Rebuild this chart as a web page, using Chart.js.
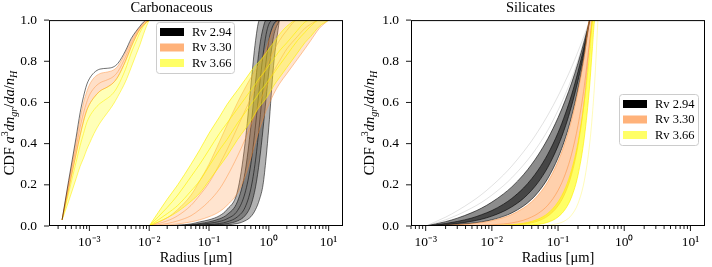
<!DOCTYPE html>
<html><head><meta charset="utf-8">
<script src="https://cdn.jsdelivr.net/npm/chart.js@4.4.1/dist/chart.umd.min.js"></script>
<style>
html,body{margin:0;padding:0;background:#fff;width:712px;height:267px;overflow:hidden}
canvas{position:absolute;top:0}
</style></head>
<body>
<canvas id="c1" width="356" height="267" style="left:0"></canvas>
<canvas id="c2" width="356" height="267" style="left:356px"></canvas>
<script>
// ---------------- data ----------------
const TITLES = ['Carbonaceous', 'Silicates'];
const X_TITLE = 'Radius [μm]';
const XTICK_VALUES = [1e-3, 1e-2, 1e-1, 1e0, 1e1];
const XTICK_LABELS = ['10⁻³', '10⁻²', '10⁻¹', '10⁰', '10¹'];
const LEGEND_LABELS = ['Rv 2.94', 'Rv 3.30', 'Rv 3.66'];
const LEGEND_COLORS = ['#000000', '#ffb27a', '#ffff66'];

// Carbonaceous, small-grain component
const CARB_SMALL_X = [3.5e-4, 4.5e-4, 6e-4, 7e-4, 8e-4, 9e-4, 1e-3, 1.2e-3, 1.5e-3, 2e-3, 2.5e-3, 3e-3, 4e-3, 5e-3, 6e-3, 7e-3, 8e-3, 9e-3, 1e-2];
const CARB_SMALL_BLACK = [
  [0.03, 0.22, 0.43, 0.55, 0.63, 0.685, 0.715, 0.745, 0.762, 0.766, 0.772, 0.79, 0.85, 0.91, 0.945, 0.97, 0.99, 1.0, 1.0]
];
const CARB_SMALL_ORANGE = [
  [0.03, 0.21, 0.41, 0.52, 0.60, 0.65, 0.685, 0.72, 0.74, 0.748, 0.757, 0.777, 0.84, 0.90, 0.94, 0.966, 0.986, 1.0, 1.0],
  [0.03, 0.20, 0.38, 0.48, 0.55, 0.60, 0.635, 0.67, 0.695, 0.71, 0.725, 0.75, 0.82, 0.885, 0.93, 0.96, 0.98, 0.995, 1.0],
  [0.03, 0.18, 0.35, 0.44, 0.51, 0.56, 0.59, 0.625, 0.655, 0.675, 0.695, 0.725, 0.80, 0.87, 0.92, 0.955, 0.975, 0.99, 1.0]
];
const CARB_SMALL_YELLOW = [
  [0.03, 0.18, 0.35, 0.44, 0.51, 0.56, 0.59, 0.625, 0.655, 0.675, 0.695, 0.725, 0.80, 0.87, 0.92, 0.955, 0.975, 0.99, 1.0],
  [0.03, 0.16, 0.31, 0.39, 0.45, 0.50, 0.53, 0.565, 0.595, 0.62, 0.645, 0.68, 0.76, 0.84, 0.895, 0.94, 0.97, 0.99, 1.0],
  [0.03, 0.12, 0.23, 0.29, 0.33, 0.37, 0.40, 0.45, 0.50, 0.55, 0.59, 0.63, 0.70, 0.77, 0.83, 0.88, 0.93, 0.97, 1.0]
];

// Carbonaceous, large-grain component
const CARB_LARGE_X = [0.01, 0.02, 0.03, 0.05, 0.07, 0.1, 0.15, 0.2, 0.3, 0.4, 0.5, 0.6, 0.7, 0.8, 0.9, 1.0, 1.2, 1.5, 2, 3, 4, 5, 7, 10];
const CARB_LARGE_BLACK = [
  [0, 0.002, 0.004, 0.01, 0.02, 0.03, 0.05, 0.08, 0.17, 0.40, 0.68, 0.90, 1, 1, 1, 1, 1, 1],
  [0, 0.001, 0.003, 0.006, 0.012, 0.02, 0.035, 0.055, 0.12, 0.26, 0.48, 0.70, 0.87, 0.96, 1, 1, 1, 1],
  [0, 0, 0.002, 0.004, 0.008, 0.013, 0.022, 0.035, 0.075, 0.16, 0.30, 0.49, 0.68, 0.83, 0.93, 0.98, 1, 1],
  [0, 0, 0.001, 0.002, 0.004, 0.007, 0.012, 0.02, 0.045, 0.09, 0.18, 0.32, 0.50, 0.67, 0.80, 0.90, 0.98, 1],
  [0, 0, 0, 0.001, 0.002, 0.004, 0.007, 0.011, 0.025, 0.05, 0.10, 0.19, 0.32, 0.47, 0.62, 0.75, 0.92, 1],
  [0, 0, 0, 0, 0.001, 0.002, 0.004, 0.006, 0.012, 0.025, 0.045, 0.08, 0.13, 0.20, 0.33, 0.48, 0.78, 1]
];
const CARB_LARGE_ORANGE = [
  [0, 0.04, 0.08, 0.15, 0.22, 0.30, 0.41, 0.49, 0.60, 0.67, 0.72, 0.76, 0.79, 0.82, 0.86, 0.90, 0.96, 1, 1, 1, 1, 1, 1, 1],
  [0, 0.025, 0.05, 0.10, 0.15, 0.21, 0.30, 0.37, 0.48, 0.56, 0.62, 0.67, 0.71, 0.74, 0.77, 0.80, 0.85, 0.90, 0.95, 1, 1, 1, 1, 1],
  [0, 0.012, 0.025, 0.05, 0.08, 0.12, 0.18, 0.24, 0.34, 0.42, 0.49, 0.55, 0.60, 0.64, 0.67, 0.70, 0.75, 0.80, 0.86, 0.92, 0.96, 0.98, 1, 1],
  [0, 0.005, 0.01, 0.02, 0.03, 0.045, 0.07, 0.10, 0.16, 0.24, 0.33, 0.41, 0.47, 0.52, 0.56, 0.59, 0.64, 0.69, 0.74, 0.81, 0.86, 0.90, 0.96, 1]
];
const CARB_LARGE_YELLOW = [
  [0, 0.13, 0.20, 0.30, 0.37, 0.45, 0.53, 0.59, 0.66, 0.71, 0.75, 0.78, 0.80, 0.82, 0.84, 0.86, 0.89, 0.93, 0.97, 1, 1, 1, 1, 1],
  [0, 0.09, 0.15, 0.24, 0.30, 0.37, 0.45, 0.50, 0.57, 0.62, 0.66, 0.69, 0.72, 0.74, 0.76, 0.78, 0.81, 0.85, 0.89, 0.95, 0.99, 1, 1, 1],
  [0, 0.06, 0.10, 0.17, 0.22, 0.29, 0.37, 0.42, 0.50, 0.55, 0.59, 0.62, 0.65, 0.67, 0.69, 0.71, 0.74, 0.78, 0.83, 0.90, 0.94, 0.97, 1, 1],
  [0, 0.04, 0.07, 0.12, 0.16, 0.22, 0.29, 0.34, 0.42, 0.47, 0.51, 0.55, 0.58, 0.60, 0.62, 0.64, 0.68, 0.72, 0.77, 0.84, 0.89, 0.92, 0.97, 1]
];

// Silicates
const SIL_X = [0.001, 0.002, 0.003, 0.005, 0.007, 0.01, 0.015, 0.02, 0.03, 0.04, 0.05, 0.07, 0.1, 0.13, 0.16, 0.2, 0.25, 0.3, 0.33, 0.36, 0.4];
const SIL_BLACK_FAINT = [
  [0, 0.043, 0.074, 0.119, 0.153, 0.195, 0.248, 0.291, 0.36, 0.414, 0.461, 0.538, 0.631, 0.707, 0.771, 0.847, 0.928, 1],
  [0, 0.03, 0.053, 0.088, 0.115, 0.15, 0.196, 0.234, 0.296, 0.346, 0.39, 0.465, 0.562, 0.643, 0.715, 0.806, 0.91, 1]
];
const SIL_BLACK = [
  [0, 0.021, 0.038, 0.065, 0.087, 0.116, 0.156, 0.19, 0.249, 0.30, 0.345, 0.424, 0.526, 0.615, 0.694, 0.791, 0.90, 1],
  [0, 0.012, 0.022, 0.039, 0.055, 0.075, 0.106, 0.134, 0.184, 0.23, 0.272, 0.349, 0.453, 0.549, 0.637, 0.749, 0.879, 1],
  [0, 0.006, 0.012, 0.023, 0.033, 0.048, 0.071, 0.093, 0.134, 0.174, 0.212, 0.285, 0.389, 0.487, 0.583, 0.706, 0.855, 1],
  [0, 0.0033, 0.0067, 0.0134, 0.0201, 0.0301, 0.0468, 0.0635, 0.097, 0.13, 0.164, 0.231, 0.331, 0.431, 0.532, 0.666, 0.833, 1]
];
const SIL_ORANGE = [
  [0, 0.003, 0.006, 0.011, 0.017, 0.026, 0.041, 0.056, 0.087, 0.118, 0.15, 0.215, 0.314, 0.414, 0.516, 0.653, 0.826, 1, 1],
  [0, 0.0005, 0.001, 0.002, 0.003, 0.0055, 0.01, 0.015, 0.028, 0.044, 0.061, 0.101, 0.173, 0.256, 0.349, 0.488, 0.682, 0.897, 1],
  [0, 0, 0, 0.0002, 0.0005, 0.001, 0.0022, 0.0039, 0.0088, 0.0156, 0.0244, 0.048, 0.098, 0.165, 0.25, 0.391, 0.611, 0.879, 1]
];
const SIL_YELLOW = [
  [0, 0, 0, 0.0005, 0.001, 0.0018, 0.0038, 0.0064, 0.0133, 0.0224, 0.0335, 0.0613, 0.117, 0.187, 0.272, 0.406, 0.607, 0.842, 1, 1, 1],
  [0, 0, 0, 0, 0, 0.0001, 0.0003, 0.0008, 0.0022, 0.0044, 0.0077, 0.018, 0.044, 0.084, 0.141, 0.247, 0.432, 0.68, 0.863, 1, 1]
];
const SIL_YELLOW_FAINT = [
  [0, 0, 0, 0, 0, 0, 0, 0, 0, 0.0002, 0.0013, 0.0038, 0.0119, 0.0274, 0.0532, 0.109, 0.222, 0.398, 0.541, 0.714, 1]
];

const YLABEL_PARTS = [['CDF ', 'r'], ['a', 'i'], ['3', 'sup'], ['dn', 'i'], ['gr', 'isub'], ['/', 'r'], ['da', 'i'], ['/', 'r'], ['n', 'i'], ['H', 'isub']];

// ---------------- styles ----------------
const FONT = "'Liberation Serif', 'Times New Roman', serif";
const C_BLACK = 'rgba(0,0,0,0.55)', F_BLACK = 'rgba(0,0,0,0.3)';
const C_ORANGE = 'rgba(255,140,50,0.45)', F_ORANGE = 'rgba(255,150,70,0.26)';
const C_YELLOW = 'rgba(255,240,0,0.65)', F_YELLOW = 'rgba(255,255,0,0.32)';

// fills: list of [sourceIndex, targetIndex, colour] inside the group
function addGroup(list, xs, curves, color, order, fills, width) {
  const base = list.length;
  curves.forEach((ys, j) => {
    const f = (fills || []).find(e => e[0] === j);
    list.push({
      data: ys.map((y, i) => ({x: xs[i], y: y})),
      borderColor: color,
      borderWidth: width || 1,
      pointRadius: 0,
      cubicInterpolationMode: 'monotone',
      order: order,
      fill: f ? base + f[1] : false,
      backgroundColor: f ? f[2] : 'transparent'
    });
  });
}

const isMajor = v => Math.abs(Math.log10(v) - Math.round(Math.log10(v))) < 1e-6;

const framePlugin = {
  id: 'frame',
  afterDraw(chart) {
    const {ctx, chartArea: a, scales} = chart;
    ctx.save();
    ctx.strokeStyle = '#000';
    ctx.lineWidth = 1;
    ctx.strokeRect(a.left + 0.5, a.top + 0.5, a.right - a.left - 1, a.bottom - a.top - 1);
    ctx.lineWidth = 0.9;
    const xs = scales.x;
    xs.ticks.forEach(t => {
      const px = xs.getPixelForValue(t.value);
      const len = isMajor(t.value) ? 5 : 3;
      ctx.beginPath(); ctx.moveTo(px, a.bottom); ctx.lineTo(px, a.bottom + len); ctx.stroke();
    });
    const ys = scales.y;
    ys.ticks.forEach(t => {
      const py = ys.getPixelForValue(t.value);
      ctx.beginPath(); ctx.moveTo(a.left, py); ctx.lineTo(a.left - 5, py); ctx.stroke();
    });
    ctx.restore();
  }
};

const ylabelPlugin = {
  id: 'ylabel',
  afterDraw(chart) {
    const o = chart.options.plugins.ylabel;
    const {ctx, chartArea: a} = chart;
    const fonts = {
      r: '14.5px ' + FONT, i: 'italic 14.5px ' + FONT,
      sup: '10px ' + FONT, isub: 'italic 10px ' + FONT
    };
    const shift = {r: 0, i: 0, sup: -6, isub: 3};
    ctx.save();
    let total = 0;
    const widths = YLABEL_PARTS.map(([t, s]) => { ctx.font = fonts[s]; const w = ctx.measureText(t).width; total += w; return w; });
    ctx.translate(o.x, (a.top + a.bottom) / 2);
    ctx.rotate(-Math.PI / 2);
    ctx.fillStyle = '#000';
    ctx.textBaseline = 'alphabetic';
    ctx.textAlign = 'left';
    let x = -total / 2;
    YLABEL_PARTS.forEach(([t, s], k) => {
      ctx.font = fonts[s];
      ctx.fillText(t, x, shift[s]);
      x += widths[k];
    });
    ctx.restore();
  }
};

const legendPlugin = {
  id: 'rvlegend',
  afterDraw(chart) {
    const o = chart.options.plugins.rvlegend;
    const ctx = chart.ctx;
    ctx.save();
    ctx.beginPath();
    ctx.roundRect(o.x + 0.5, o.y + 0.5, o.w, o.h, 3);
    ctx.fillStyle = 'rgba(255,255,255,0.8)';
    ctx.fill();
    ctx.strokeStyle = '#cccccc';
    ctx.lineWidth = 1;
    ctx.stroke();
    LEGEND_LABELS.forEach((lab, i) => {
      const yy = o.y + 10 + i * 15.5;
      ctx.fillStyle = LEGEND_COLORS[i];
      ctx.fillRect(o.x + 4, yy - 4, 24, 8);
      ctx.fillStyle = '#000';
      ctx.font = '12.5px ' + FONT;
      ctx.textBaseline = 'middle';
      ctx.textAlign = 'left';
      ctx.fillText(lab, o.x + 36, yy + 0.5);
    });
    ctx.restore();
  }
};

function makeOptions(title, xmin, xmax, yAxisWidth, padRight, ylabelX, legendPos) {
  return {
    responsive: false,
    animation: false,
    devicePixelRatio: 1,
    layout: {padding: {left: 0, right: padRight, top: 0, bottom: 0}},
    plugins: {
      legend: {display: false},
      tooltip: {enabled: false},
      title: {
        display: true, text: title, color: '#000',
        font: {family: FONT, size: 14.5, weight: 'normal', lineHeight: '11px'},
        padding: {top: 0, bottom: 6}
      },
      ylabel: {x: ylabelX},
      rvlegend: legendPos
    },
    scales: {
      x: {
        type: 'logarithmic', min: xmin, max: xmax,
        border: {display: false},
        grid: {display: false, drawTicks: false},
        afterFit: s => { s.height = 41; },
        afterBuildTicks: scale => {
          const t = [];
          for (let k = -4; k <= 1; k++) for (let m = 1; m <= 9; m++) {
            const v = m * Math.pow(10, k);
            if (v >= scale.min && v <= scale.max) t.push({value: v});
          }
          scale.ticks = t;
        },
        ticks: {
          autoSkip: false, maxRotation: 0, minRotation: 0, padding: 8, color: '#000',
          font: {family: FONT, size: 13.5},
          callback: v => {
            const i = XTICK_VALUES.findIndex(u => Math.abs(u - v) / u < 1e-6);
            return i >= 0 ? XTICK_LABELS[i] : '';
          }
        },
        title: {display: true, text: X_TITLE, color: '#000', font: {family: FONT, size: 14.5}, padding: {top: 0, bottom: 0}}
      },
      y: {
        type: 'linear', min: 0, max: 1,
        border: {display: false},
        grid: {display: false, drawTicks: false},
        afterFit: s => { s.width = yAxisWidth; },
        ticks: {
          stepSize: 0.2, padding: 12, color: '#000',
          font: {family: FONT, size: 13.5},
          callback: v => v.toFixed(1)
        }
      }
    }
  };
}

Chart.defaults.font.family = FONT;
Chart.defaults.color = '#000';

// ---------------- left chart ----------------
const ds1 = [];
addGroup(ds1, CARB_SMALL_X, CARB_SMALL_BLACK, 'rgba(0,0,0,0.7)', 0, null, 0.8);
addGroup(ds1, CARB_SMALL_X, CARB_SMALL_ORANGE, C_ORANGE, 1, [[2, 0, 'rgba(255,150,70,0.3)']]);
addGroup(ds1, CARB_SMALL_X, CARB_SMALL_YELLOW, 'rgba(255,240,0,0.55)', 2, [[2, 0, 'rgba(255,255,0,0.28)']]);
addGroup(ds1, CARB_LARGE_X, CARB_LARGE_BLACK, C_BLACK, 2, [[5, 0, F_BLACK], [4, 1, 'rgba(0,0,0,0.3)']]);
addGroup(ds1, CARB_LARGE_X, CARB_LARGE_ORANGE, C_ORANGE, 1, [[3, 0, F_ORANGE]]);
addGroup(ds1, CARB_LARGE_X, CARB_LARGE_YELLOW, C_YELLOW, 0, [[3, 0, F_YELLOW]]);

new Chart(document.getElementById('c1'), {
  type: 'line',
  data: {datasets: ds1},
  options: makeOptions(TITLES[0], Math.pow(10, -3.675), Math.pow(10, 1.24), 49, 13, 14,
    {x: 156, y: 22, w: 78, h: 51}),
  plugins: [framePlugin, ylabelPlugin, legendPlugin]
});

// ---------------- right chart ----------------
const ds2 = [];
addGroup(ds2, SIL_X, SIL_BLACK_FAINT, 'rgba(0,0,0,0.15)', 2, null, 0.8);
addGroup(ds2, SIL_X, SIL_BLACK, 'rgba(0,0,0,0.6)', 2, [[3, 0, 'rgba(0,0,0,0.45)'], [2, 1, 'rgba(0,0,0,0.5)']]);
addGroup(ds2, SIL_X, SIL_ORANGE, 'rgba(255,140,50,0.5)', 1, [[2, 0, 'rgba(255,150,70,0.45)']]);
addGroup(ds2, SIL_X, SIL_YELLOW, C_YELLOW, 0, [[1, 0, 'rgba(255,255,0,0.6)']]);
addGroup(ds2, SIL_X, SIL_YELLOW_FAINT, 'rgba(255,240,0,0.35)', 0, null, 0.8);

new Chart(document.getElementById('c2'), {
  type: 'line',
  data: {datasets: ds2},
  options: makeOptions(TITLES[1], Math.pow(10, -3.2), Math.pow(10, 1.22), 55, 7, 18,
    {x: 263, y: 94, w: 79, h: 51}),
  plugins: [framePlugin, ylabelPlugin, legendPlugin]
});
</script>
</body></html>
